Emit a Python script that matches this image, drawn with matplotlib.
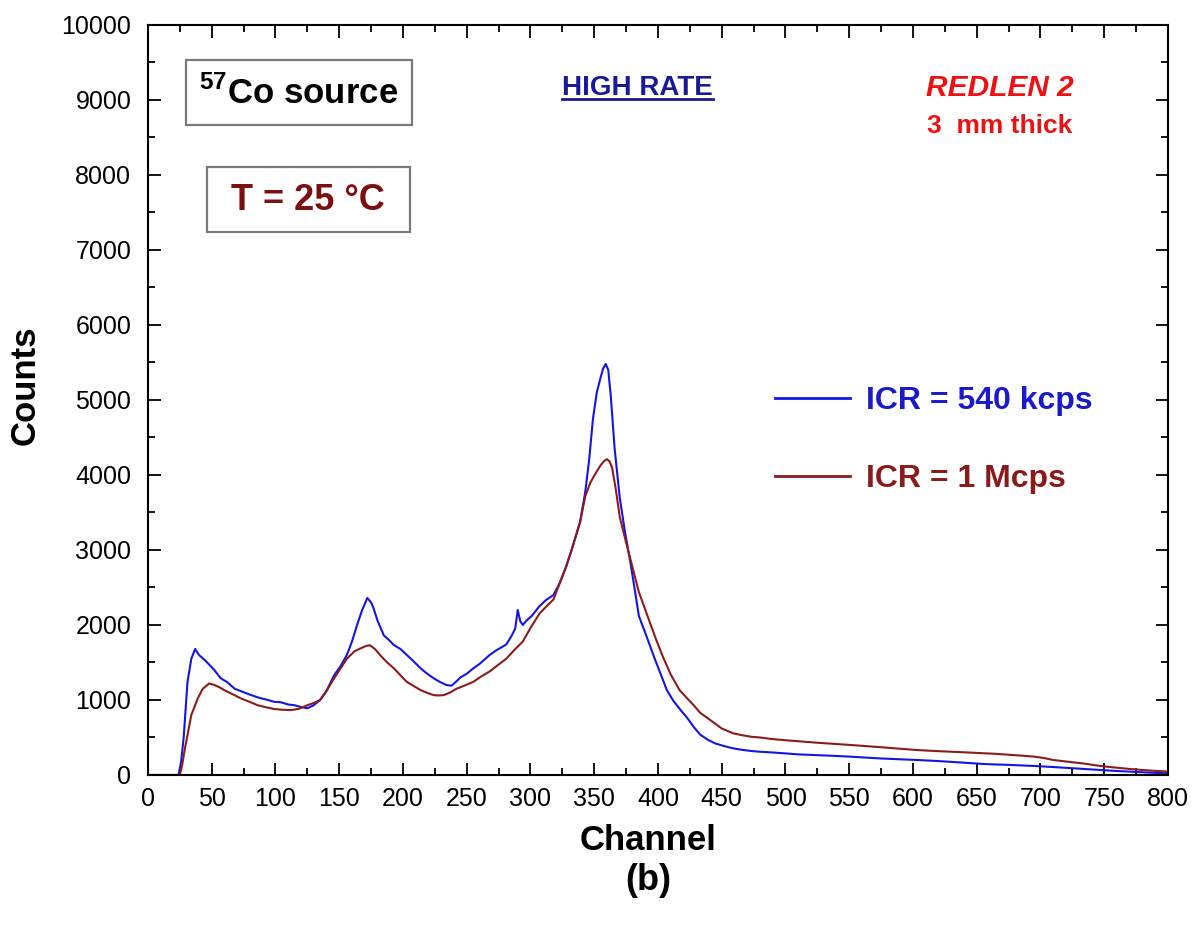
import matplotlib
matplotlib.use("Agg")
import matplotlib.pyplot as plt
from matplotlib.patches import Rectangle
from matplotlib.lines import Line2D
from matplotlib.ticker import MultipleLocator

plt.rcParams["font.family"] = ["Liberation Sans", "DejaVu Sans"]
plt.rcParams["mathtext.fontset"] = "custom"
plt.rcParams["mathtext.rm"] = "Liberation Sans"
plt.rcParams["mathtext.bf"] = "Liberation Sans:bold"

# ── spectrum at ICR = 540 kcps ──
blue_ch = [0, 24, 26, 28, 31, 34, 37, 40, 44, 47, 52, 57, 62, 68, 74, 81, 87, 94, 99,
           104, 110, 115, 120, 125, 130, 135, 140, 146, 151, 156, 160, 164, 168, 172,
           175, 177, 180, 185, 189, 193, 198, 203, 208, 214, 219, 224, 229, 234, 238,
           242, 245, 250, 255, 260, 264, 268, 273, 277, 281, 285, 288, 290, 292, 294,
           297, 301, 307, 312, 318, 323, 328, 333, 339, 343, 346, 349, 352, 355, 357,
           359, 361, 363, 366, 370, 374, 378, 382, 385, 391, 397, 402, 407, 412, 418,
           423, 428, 433, 439, 445, 452, 459, 466, 473, 480, 490, 498, 510, 525, 538,
           551, 563, 575, 590, 603, 617, 630, 643, 655, 665, 675, 685, 695, 708, 720,
           733, 747, 758, 770, 785, 800]
blue_counts = [0, 0, 180, 500, 1240, 1550, 1680, 1600, 1540, 1490, 1400, 1290, 1240, 1150,
               1110, 1065, 1030, 1000, 975, 970, 940, 930, 905, 890, 930, 1000, 1120, 1330,
               1450, 1600, 1780, 2000, 2200, 2360, 2300, 2220, 2060, 1860, 1800, 1730, 1680,
               1600, 1520, 1420, 1350, 1290, 1240, 1200, 1190, 1250, 1300, 1350, 1420, 1480,
               1540, 1600, 1660, 1700, 1740, 1850, 1950, 2200, 2050, 2000, 2060, 2120, 2250,
               2330, 2400, 2560, 2780, 3040, 3380, 3780, 4200, 4750, 5100, 5300, 5420,
               5480, 5400, 5050, 4350, 3700, 3250, 2870, 2450, 2120, 1850, 1570, 1350, 1130,
               990, 860, 760, 640, 540, 470, 420, 385, 355, 335, 320, 310, 300, 290, 275, 265,
               255, 244, 232, 220, 210, 200, 188, 175, 160, 147, 140, 135, 128, 120, 108, 95,
               80, 67, 55, 45, 32, 22]

# ── spectrum at ICR = 1 Mcps ──
red_ch = [0, 25, 27, 29, 32, 34, 37, 39, 43, 48, 52, 56, 60, 66, 73, 79, 86, 92, 99, 105,
          112, 118, 125, 130, 135, 140, 146, 151, 156, 162, 167, 171, 174, 178, 182, 187,
          193, 198, 203, 208, 214, 219, 224, 228, 232, 237, 242, 248, 255, 261, 268, 274,
          281, 287, 294, 300, 307, 312, 318, 323, 328, 333, 339, 343, 347, 351, 355, 358,
          360, 362, 364, 367, 370, 375, 380, 385, 392, 398, 404, 410, 417, 423, 428, 433,
          442, 450, 459, 466, 473, 480, 489, 498, 510, 525, 538, 551, 563, 575, 590,
          603, 617, 630, 643, 655, 665, 675, 685, 695, 703, 710, 721, 735, 747, 758, 770,
          785, 800]
red_counts = [0, 0, 150, 355, 620, 800, 930, 1020, 1150, 1220, 1200, 1170, 1130, 1080, 1020,
              980, 930, 905, 880, 870, 865, 880, 930, 960, 1000, 1120, 1290, 1420, 1550, 1650,
              1690, 1720, 1730, 1680, 1600, 1510, 1420, 1330, 1240, 1190, 1130, 1095, 1065,
              1060, 1065, 1100, 1150, 1190, 1240, 1310, 1380, 1460, 1550, 1660, 1780, 1960,
              2150, 2240, 2340, 2560, 2780, 3040, 3380, 3720, 3900, 4020, 4130, 4190, 4210,
              4180, 4100, 3800, 3440, 3100, 2770, 2440, 2110, 1830, 1570, 1340, 1130, 1020,
              930, 830, 720, 620, 555, 530, 510, 500, 480, 466, 450, 430, 415, 400, 385,
              370, 350, 333, 320, 310, 300, 290, 282, 270, 258, 245, 225, 200, 178, 150, 120,
              100, 80, 60, 45]

labels = ["ICR = 540 kcps", "ICR = 1 Mcps"]
line_colors = ["#1414e6", "#8c1c1c"]
text_colors = ["#1a1acc", "#8b1a1a"]

fig = plt.figure(figsize=(12.04, 9.42), dpi=100)
ax = fig.add_axes([0.1229, 0.1773, 0.8472, 0.7962])

ax.plot(blue_ch, blue_counts, color=line_colors[0], lw=1.5, label=labels[0])
ax.plot(red_ch, red_counts, color=line_colors[1], lw=1.5, label=labels[1])

ax.set_xlim(0, 800)
ax.set_ylim(0, 10000)
ax.xaxis.set_major_locator(MultipleLocator(50))
ax.xaxis.set_minor_locator(MultipleLocator(25))
ax.yaxis.set_major_locator(MultipleLocator(1000))
ax.yaxis.set_minor_locator(MultipleLocator(500))
ax.tick_params(which="both", direction="in", top=True, right=True, width=1.3,
               labelsize=18, colors="black")
ax.tick_params(which="major", length=9)
ax.tick_params(which="minor", length=5)
ax.tick_params(axis="y", pad=12)
ax.tick_params(axis="x", pad=9)
for s in ax.spines.values():
    s.set_linewidth(1.5)

ax.set_ylabel("Counts", fontsize=25, fontweight="bold")
ax.yaxis.set_label_coords(-0.104, 0.52)
fig.text(0.538, 0.108, "Channel", fontsize=25, fontweight="bold", ha="center", va="center")
fig.text(0.538, 0.065, "(b)", fontsize=26, fontweight="bold", ha="center", va="center")

# boxed annotations
ax.add_patch(Rectangle((0.0373, 0.8667), 0.2216, 0.0867, transform=ax.transAxes,
                       fill=False, ec="#7a7a7a", lw=1.6))
ax.text(0.148, 0.909, r"$^{\mathbf{57}}$Co source", transform=ax.transAxes,
        fontsize=25, fontweight="bold", ha="center", va="center")
ax.add_patch(Rectangle((0.0578, 0.724), 0.199, 0.0867, transform=ax.transAxes,
                       fill=False, ec="#7a7a7a", lw=1.6))
ax.text(0.157, 0.766, "T = 25 °C", transform=ax.transAxes, fontsize=26,
        fontweight="bold", color="#7a1010", ha="center", va="center")

hr = ax.text(0.480, 0.916, "HIGH RATE", transform=ax.transAxes, fontsize=20,
             fontweight="bold", color="#1a1a99", ha="center", va="center")
ax.text(0.835, 0.916, "REDLEN 2", transform=ax.transAxes, fontsize=21.5,
        fontweight="bold", fontstyle="italic", color="#ee1111", ha="center", va="center")
ax.text(0.835, 0.865, "3  mm thick", transform=ax.transAxes, fontsize=19,
        fontweight="bold", color="#ee1111", ha="center", va="center")

# underline for HIGH RATE
fig.canvas.draw()
bb = hr.get_window_extent().transformed(ax.transAxes.inverted())
ax.add_line(Line2D([bb.x0, bb.x1], [bb.y0 + 0.002, bb.y0 + 0.002], transform=ax.transAxes,
                   color="#1a1a99", lw=2))

leg = ax.legend(loc="upper left", bbox_to_anchor=(0.615, 0.518), frameon=False,
                prop={"size": 23, "weight": "bold"}, handlelength=2.35,
                handletextpad=0.5, labelspacing=1.5, borderpad=0, borderaxespad=0)
for t, c in zip(leg.get_texts(), text_colors):
    t.set_color(c)
for h in leg.get_lines():
    h.set_linewidth(2)

fig.savefig("out.png", dpi=100)
